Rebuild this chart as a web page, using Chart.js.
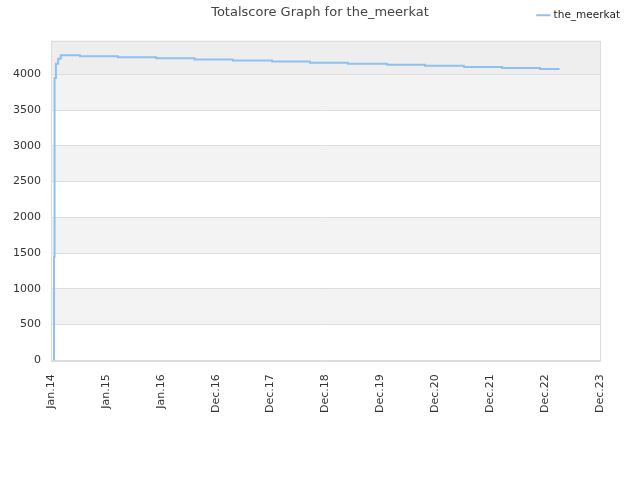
<!DOCTYPE html>
<html>
<head>
<meta charset="utf-8">
<script src="https://cdn.jsdelivr.net/npm/chart.js@4/dist/chart.umd.min.js"></script>
<style>
  html, body { margin: 0; padding: 0; background: #fff; }
  #wrap { position: relative; width: 640px; height: 480px; }
  #title { position: absolute; left: 0; top: 4px; width: 640px; text-align: center;
           font-family: "DejaVu Sans", sans-serif; font-size: 13px; color: #444; }
  canvas { position: absolute; left: 0; top: 0; }
</style>
</head>
<body>
<div id="wrap">
  <canvas id="c" width="640" height="480"></canvas>
  <div id="title">Totalscore Graph for the_meerkat</div>
</div>
<script>
const seriesName = "the_meerkat";
const xTickLabels = ["Jan.14","Jan.15","Jan.16","Dec.16","Dec.17","Dec.18","Dec.19","Dec.20","Dec.21","Dec.22","Dec.23"];
// positions along the time axis, in tick-interval units
const xPositions = [0.05, 0.055, 0.065, 0.09, 0.13, 0.177, 0.528, 1.219, 1.914, 2.616, 3.313, 4.027, 4.718, 5.408, 6.122, 6.812, 7.523, 8.217, 8.907, 9.264];
const scores     = [0,    1450,  3950,  4150, 4220, 4270,  4255,  4240,  4225,  4210,  4195,  4180,  4165,  4150,  4135,  4120,  4105,  4090,  4075,  4075];
const yTicks = [0, 500, 1000, 1500, 2000, 2500, 3000, 3500, 4000];

const points = xPositions.map((x, i) => ({ x: x, y: scores[i] }));

const bandPlugin = {
  id: 'bands',
  beforeDraw(chart) {
    const { ctx, chartArea: a, scales: { y } } = chart;
    ctx.save();
    ctx.fillStyle = '#ffffff';
    ctx.fillRect(a.left, a.top, a.right - a.left, a.bottom - a.top);
    for (let i = 0; i < yTicks.length; i++) {
      const lo = yTicks[i];
      const hi = i + 1 < yTicks.length ? yTicks[i + 1] : y.max;
      let color = null;
      if (i === yTicks.length - 1) color = '#eeeeee';
      else if (i % 2 === 1) color = '#f3f3f3';
      if (color) {
        const yTop = y.getPixelForValue(hi), yBot = y.getPixelForValue(lo);
        ctx.fillStyle = color;
        ctx.fillRect(a.left, yTop, a.right - a.left, yBot - yTop);
      }
    }
    ctx.restore();
  },
  afterDatasetsDraw(chart) {
    const { ctx, chartArea: a } = chart;
    ctx.save();
    ctx.strokeStyle = '#dddddd';
    ctx.lineWidth = 1;
    ctx.strokeRect(Math.round(a.left) + 0.5, Math.round(a.top) + 0.5, Math.round(a.right - a.left), Math.round(a.bottom - a.top));
    ctx.restore();
  }
};

const spacer = (size) => ({
  type: 'linear', min: 0, max: 1,
  grid: { display: false, drawTicks: false },
  border: { display: false },
  ticks: { display: false },
  afterFit(s) { if (s.isHorizontal()) s.height = size; else s.width = size; }
});

new Chart(document.getElementById('c'), {
  type: 'line',
  data: {
    datasets: [{
      label: seriesName,
      data: points,
      borderColor: '#90c0f0',
      backgroundColor: '#90c0f0',
      borderWidth: 2,
      pointRadius: 0,
      stepped: true,
      fill: false
    }]
  },
  options: {
    responsive: false,
    animation: false,
    devicePixelRatio: 1,
    layout: { padding: { top: 0, right: 10, left: 3, bottom: 53 } },
    plugins: {
      title: { display: false },
      tooltip: { enabled: false },
      legend: {
        display: true,
        position: 'top',
        align: 'end',
        labels: {
          usePointStyle: true,
          pointStyle: 'line',
          boxWidth: 10,
          boxHeight: 10,
          padding: 10,
          color: '#222',
          font: { family: 'DejaVu Sans', size: 10.5 }
        }
      }
    },
    scales: {
      x: {
        type: 'linear',
        min: 0,
        max: 10,
        border: { display: false },
        grid: { display: false, drawTicks: false },
        afterBuildTicks(scale) {
          scale.ticks = xTickLabels.map((_, i) => ({ value: i }));
        },
        ticks: {
          autoSkip: false,
          minRotation: 90,
          maxRotation: 90,
          padding: 14,
          color: '#333',
          font: { family: 'DejaVu Sans', size: 11 },
          callback: (v) => xTickLabels[v]
        }
      },
      y: {
        min: 0,
        max: 4475,
        border: { display: false },
        grid: { color: '#dddddd', drawTicks: false, lineWidth: 1 },
        afterBuildTicks(scale) {
          scale.ticks = yTicks.map(v => ({ value: v }));
        },
        ticks: {
          padding: 10,
          color: '#333',
          font: { family: 'DejaVu Sans', size: 11 },
          callback: (v) => String(v)
        }
      },
      topSpace: Object.assign(spacer(10), { position: 'top' }),
      rightSpace: Object.assign(spacer(30), { position: 'right' })
    }
  },
  plugins: [bandPlugin]
});
</script>
</body>
</html>
